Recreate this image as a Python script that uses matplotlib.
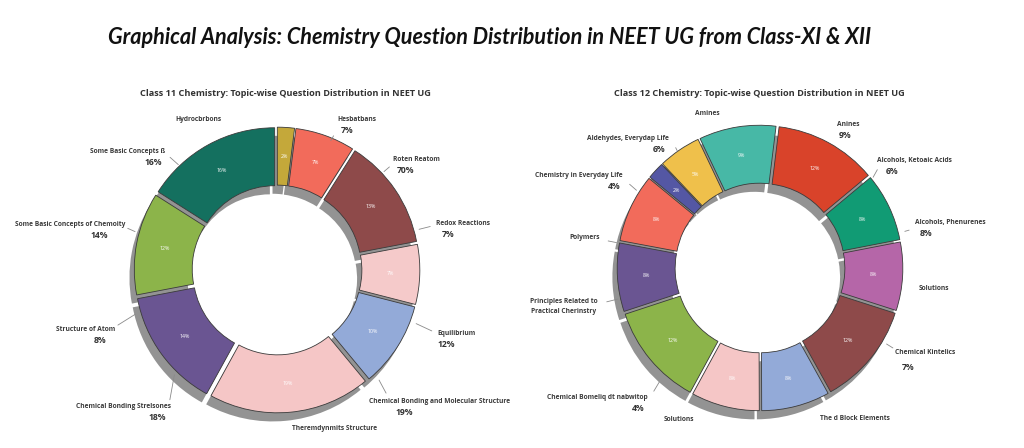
import matplotlib
matplotlib.use("Agg")
from matplotlib import pyplot as plt

# ---- data ----
class11_values = [2, 7, 13, 7, 10, 19, 14, 12, 16]
class11_colors = ["#C4A83A", "#F26B5B", "#8E4A4A", "#F5CACA", "#93AAD8",
                  "#F5C6C6", "#6A5592", "#8CB44A", "#14705F"]

class12_values = [12, 8, 8, 12, 8, 8, 12, 8, 8, 2, 5, 9]
class12_colors = ["#D9432A", "#119B74", "#B566A8", "#8E4A4A", "#93AAD8",
                  "#F5C6C6", "#8CB44A", "#6A5592", "#F26B5B", "#5457A4",
                  "#EFC04B", "#47B8A6"]

# outer labels: (name, percent text)
class11_names = ["Hydrocbrbons", "Some Basic Concepts ß", "Hesbatbans", "Roten Reatom",
                 "Redox Reactions", "Equilibrium", "Chemical Bonding and Molecular Structure",
                 "Theremdynmits Structure", "Chemical Bonding Strelsones",
                 "Structure of Atom", "Some Basic Concepts of Chemoity"]
class11_pcts = ["", "16%", "7%", "70%", "7%", "12%", "19%", "", "18%", "8%", "14%"]

class12_names = ["Amines", "Aldehydes, Everydap Life", "Chemistry in Everyday Life",
                 "Polymers", "Anines", "Alcohols, Ketoaic Acids", "Alcohols, Phenurenes",
                 "Solutions", "Chemical Kintelics", "The d Block Elements", "Solutions",
                 "Chemical Bomeliq dt nabwitop", "Principles Related to\nPractical Cherinstry"]
class12_pcts = ["", "6%", "4%", "", "9%", "6%", "8%", "", "7%", "", "", "4%", ""]

# ---- layout of the labels (data coords of the donut axes) ----
# name position, percent position, leader line (start, end)
class11_layout = [
    ((-0.57, 1.09), None, None),
    ((-1.08, 0.86), (-0.90, 0.78), ((-0.79, 0.83), (-0.70, 0.75))),
    ((0.58, 1.09), (0.51, 1.01), ((0.42, 0.99), (0.38, 0.92))),
    ((1.01, 0.80), (0.93, 0.72), ((0.83, 0.76), (0.76, 0.70))),
    ((1.35, 0.34), (1.24, 0.26), ((1.13, 0.32), (1.01, 0.29))),
    ((1.30, -0.46), (1.23, -0.54), ((1.14, -0.45), (0.99, -0.38))),
    ((1.18, -0.95), (0.92, -1.03), ((0.80, -0.91), (0.73, -0.78))),
    ((0.42, -1.15), None, None),
    ((-1.11, -0.99), (-0.87, -1.07), ((-0.78, -0.96), (-0.74, -0.74))),
    ((-1.39, -0.43), (-1.28, -0.51), ((-1.17, -0.41), (-1.01, -0.31))),
    ((-1.50, 0.33), (-1.29, 0.25), ((-1.10, 0.31), (-1.01, 0.27))),
]
class12_layout = [
    ((-0.38, 1.12), None, None),
    ((-0.96, 0.94), (-0.73, 0.86), ((-0.62, 0.89), (-0.59, 0.83))),
    ((-1.31, 0.67), (-1.06, 0.59), ((-0.96, 0.62), (-0.88, 0.55))),
    ((-1.27, 0.22), None, ((-1.12, 0.20), (-1.02, 0.18))),
    ((0.64, 1.04), (0.62, 0.96), None),
    ((1.12, 0.78), (0.96, 0.70), ((0.86, 0.73), (0.81, 0.64))),
    ((1.38, 0.33), (1.20, 0.25), ((1.10, 0.28), (1.03, 0.26))),
    ((1.26, -0.15), None, None),
    ((1.20, -0.61), (1.07, -0.72), ((0.98, -0.59), (0.90, -0.54))),
    ((0.69, -1.09), None, None),
    ((-0.59, -1.10), None, None),
    ((-1.18, -0.94), (-0.88, -1.02), ((-0.78, -0.91), (-0.72, -0.81))),
    ((-1.42, -0.28), None, ((-1.13, -0.25), (-1.01, -0.22))),
]

FONT = ["Open Sans", "DejaVu Sans"]
SCALE = 138.0  # pixels per data unit
W, H = 1024, 448


def donut(cx, cy, values, colors, start, names, pcts, layout, title, title_x):
    box = 360
    ax = fig.add_axes([(cx - box / 2) / W, (H - cy - box / 2) / H, box / W, box / H])
    ax.pie(
        values, colors=colors, startangle=start, counterclock=False,
        explode=[0.035] * len(values),
        autopct="%d%%", pctdistance=0.79,
        wedgeprops=dict(width=0.42, edgecolor="#3a3a3a", linewidth=0.6),
        shadow={"ox": -0.025, "oy": -0.045, "facecolor": "#6f6f6f",
                "edgecolor": "none", "alpha": 0.75},
        textprops=dict(color="white", fontsize=3.8, family=FONT),
    )
    lim = box / 2 / SCALE
    ax.set_xlim(-lim, lim)
    ax.set_ylim(-lim, lim)
    ax.set_aspect("equal")
    ax.axis("off")

    for name, pct, (npos, ppos, line) in zip(names, pcts, layout):
        ax.text(npos[0], npos[1], name, ha="center", va="center", fontsize=4.8,
                fontweight="bold", color="#3b3b3b", family=FONT, linespacing=1.5)
        if ppos is not None and pct:
            ax.text(ppos[0], ppos[1], pct, ha="center", va="center", fontsize=6.2,
                    fontweight="bold", color="#333333", family=FONT)
        if line is not None:
            ax.annotate("", xy=line[1], xytext=line[0],
                        arrowprops=dict(arrowstyle="-", color="#8a8a8a", lw=0.6))

    fig.text(title_x / W, 1 - 93 / H, title, ha="center", va="center", fontsize=6.6,
             fontweight="bold", color="#333333", family=FONT)


fig = plt.figure(figsize=(W / 100, H / 100), dpi=100)
fig.patch.set_facecolor("white")

fig.text(490 / W, 1 - 38 / H,
         "Graphical Analysis: Chemistry Question Distribution in NEET UG from Class-XI & XII",
         ha="center", va="center", fontsize=15.6, fontweight="bold", style="italic",
         family=["Lato", "DejaVu Sans"], color="#111111")

donut(277, 270, class11_values, class11_colors, 90, class11_names, class11_pcts,
      class11_layout, "Class 11 Chemistry: Topic-wise Question Distribution in NEET UG", 285)
donut(760, 268, class12_values, class12_colors, 83, class12_names, class12_pcts,
      class12_layout, "Class 12 Chemistry: Topic-wise Question Distribution in NEET UG", 759)

fig.savefig("out.png", dpi=100, facecolor="white")
